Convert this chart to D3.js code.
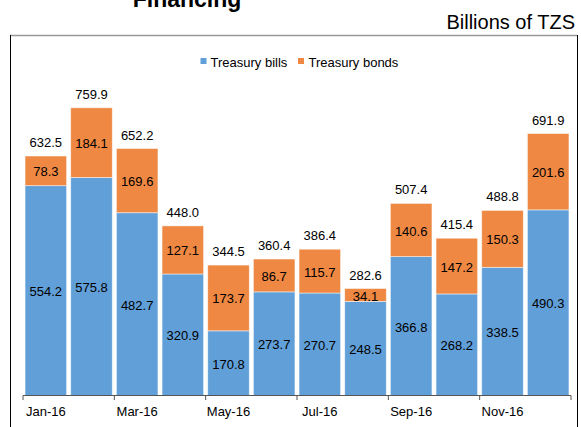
<!DOCTYPE html>
<html><head><meta charset="utf-8">
<script src="https://cdn.jsdelivr.net/npm/d3@7"></script>
<style>
body{margin:0;background:#fff;}
svg{display:block;font-family:"Liberation Sans",Arial,sans-serif;}
</style></head>
<body>
<svg id="c" width="581" height="427"></svg>
<script>
const months = ["Jan-16","Feb-16","Mar-16","Apr-16","May-16","Jun-16","Jul-16","Aug-16","Sep-16","Oct-16","Nov-16","Dec-16"];
const bills = [554.2,575.8,482.7,320.9,170.8,273.7,270.7,248.5,366.8,268.2,338.5,490.3];
const bonds = [78.3,184.1,169.6,127.1,173.7,86.7,115.7,34.1,140.6,147.2,150.3,201.6];
const totals = [632.5,759.9,652.2,448.0,344.5,360.4,386.4,282.6,507.4,415.4,488.8,691.9];
const seriesNames = ["Treasury bills","Treasury bonds"];
const colors = ["#619FD8","#EE8843"];

const svg = d3.select("#c");
const rows = months.map((m,i)=>({month:m, bills:bills[i], bonds:bonds[i], total:totals[i]}));

// title & unit
svg.append("text").attr("x",187).attr("y",6.5).attr("text-anchor","middle")
  .attr("font-size",23).attr("font-weight","bold").attr("fill","#000").text("Financing");
svg.append("text").attr("x",575).attr("y",29).attr("text-anchor","end")
  .attr("font-size",20).attr("fill","#000").text("Billions of TZS");

// frame
svg.append("line").attr("x1",10).attr("x2",577).attr("y1",35.5).attr("y2",35.5).attr("stroke","#999").attr("stroke-width",1.5);
svg.append("line").attr("x1",10.5).attr("x2",10.5).attr("y1",35).attr("y2",427).attr("stroke","#000");
svg.append("line").attr("x1",577.5).attr("x2",577.5).attr("y1",35).attr("y2",427).attr("stroke","#000");

const x = d3.scaleBand().domain(months).range([23,571]).paddingInner(0.09).paddingOuter(0.045);
const y = d3.scaleLinear().domain([0,800]).range([395.5,92.6]);

const stack = d3.stack().keys(["bills","bonds"])(rows);
const g = svg.append("g");
stack.forEach((s,si)=>{
  g.selectAll(null).data(s).enter().append("rect")
    .attr("x",d=>x(d.data.month)).attr("width",x.bandwidth())
    .attr("y",d=>y(d[1])).attr("height",d=>y(d[0])-y(d[1]))
    .attr("fill",colors[si]).attr("stroke","#fff").attr("stroke-opacity",0.6).attr("stroke-width",0.8);
  g.selectAll(null).data(s).enter().append("text")
    .attr("x",d=>x(d.data.month)+x.bandwidth()/2)
    .attr("y",d=>(y(d[0])+y(d[1]))/2+1).attr("dy","0.35em")
    .attr("text-anchor","middle").attr("font-size",13).attr("fill","#000")
    .text(d=>(d[1]-d[0]).toFixed(1));
});
g.selectAll(null).data(rows).enter().append("text")
  .attr("x",d=>x(d.month)+x.bandwidth()/2).attr("y",d=>y(d.total)-9)
  .attr("text-anchor","middle").attr("font-size",13).attr("fill","#000")
  .text(d=>d.total.toFixed(1));

// axis
const step = x.step();
const ax = svg.append("g");
ax.append("line").attr("x1",23).attr("x2",571).attr("y1",395.5).attr("y2",395.5).attr("stroke","#555").attr("stroke-width",1);
d3.range(0,13,2).forEach(k=>{
  const xx = 23 + k*step;
  ax.append("line").attr("x1",xx).attr("x2",xx).attr("y1",395.5).attr("y2",400).attr("stroke","#555");
});
ax.selectAll(null).data(months.filter((m,i)=>i%2===0)).enter().append("text")
  .attr("x",d=>x(d)+x.bandwidth()/2).attr("y",416).attr("text-anchor","middle")
  .attr("font-size",13).attr("fill","#000").text(d=>d);

// legend
const leg = svg.append("g");
const legItems = [{x:200.5, tx:210.5},{x:298, tx:308.5}];
seriesNames.forEach((n,i)=>{
  leg.append("rect").attr("x",legItems[i].x).attr("y",58).attr("width",6).attr("height",6).attr("fill",colors[i]);
  leg.append("text").attr("x",legItems[i].tx).attr("y",66.5).attr("font-size",13).attr("fill","#000").text(n);
});
</script>
</body></html>
